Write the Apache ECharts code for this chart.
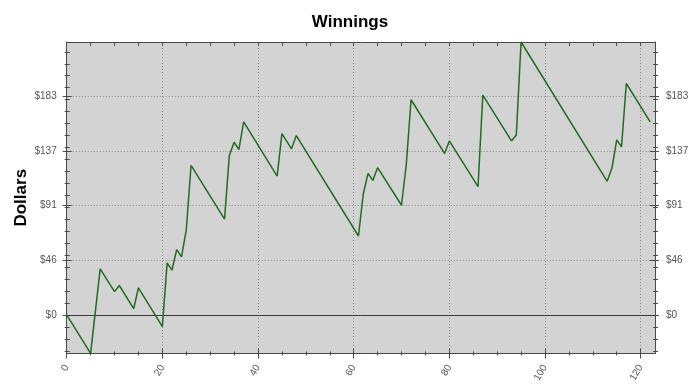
<!DOCTYPE html>
<html>
<head>
<meta charset="utf-8">
<script src="https://cdn.jsdelivr.net/npm/echarts@6/dist/echarts.min.js"></script>
<style>html,body{margin:0;padding:0;background:#fff}#c{width:700px;height:385px}</style>
</head>
<body>
<div id="c"></div>
<script>
// ---- data ----
const title = 'Winnings';
const yName = 'Dollars';
const xs = [0,5,7,10,11,14,15,20,21,22,23,24,25,26,33,34,35,36,37,44,45,47,48,61,62,63,64,65,70,71,72,79,80,86,87,93,94,95,113,114,115,116,117,122];
const ys = [0,-32.2,38.5,19.5,24.6,5.2,22.7,-9.8,43.5,37.4,54.6,48.5,71.2,125,80.1,133.3,144.4,138.3,161.4,116,151.6,138.9,150,66,100.9,118.4,112.5,123.1,91.7,125.8,179.9,135,145.5,107.3,183.8,145.5,150.5,228.2,111.7,122.8,146.4,140.6,193.5,161.4];
const yTickVals = [0, 45.7, 91.4, 137.1, 182.8];
const yTickLabels = ['$0', '$46', '$91', '$137', '$183'];
const yMinorVals = [-30,-20,-10,0,10,20,30,40,50,60,70,80,90,100,110,120,130,140,150,160,170,180,190,200,210,220];
const xMajorVals = [0,20,40,60,80,100,120];
const xMinorVals = [0,5,10,15,20,25,30,35,40,45,50,55,60,65,70,75,80,85,90,95,100,105,110,115,120];
const X_MIN = 0, X_MAX = 123;
const Y_MIN = -32.2, Y_MAX = 228.2;

// ---- chart ----
const AX = '#4a4a4a';
const chart = echarts.init(document.getElementById('c'), null, {renderer: 'canvas'});

function xAx(pos, vals, len, inside, extra) {
  return Object.assign({
    type: 'value', gridIndex: 0, position: pos, min: X_MIN, max: X_MAX,
    axisLine: {show: false, onZero: false}, splitLine: {show: false}, axisLabel: {show: false},
    axisTick: {show: true, customValues: vals, length: len, inside: inside, lineStyle: {color: AX, width: 1}}
  }, extra || {});
}
function yAx(pos, vals, len, inside, extra) {
  return Object.assign({
    type: 'value', gridIndex: 0, position: pos, min: Y_MIN, max: Y_MAX,
    axisLine: {show: false, onZero: false}, splitLine: {show: false}, axisLabel: {show: false},
    axisTick: {show: true, customValues: vals, length: len, inside: inside, lineStyle: {color: AX, width: 1}}
  }, extra || {});
}
const dotted = {show: true, lineStyle: {color: '#8a8a8a', type: [1, 2], width: 1}};
const labelStyle = {color: '#555', fontSize: 10, fontFamily: 'Liberation Sans, Arial, sans-serif'};

const option = {
  animation: false,
  backgroundColor: '#fff',
  title: {
    text: title, left: 'center', top: 9,
    textStyle: {fontSize: 17, fontWeight: 'bold', color: '#000', fontFamily: 'Liberation Sans, Arial, sans-serif'}
  },
  grid: {left: 66.7, right: 45, top: 42, bottom: 30, show: true, backgroundColor: '#d3d3d3', borderWidth: 0},
  xAxis: [
    xAx('bottom', xMajorVals, 5, false, {
      axisLine: {show: true, onZero: false, lineStyle: {color: AX, width: 1}},
      splitLine: dotted,
      axisLabel: Object.assign({show: true, customValues: xMajorVals, rotate: 60, margin: 12}, labelStyle)
    }),
    xAx('bottom', xMajorVals, 5, true),
    xAx('bottom', xMinorVals, 2, false),
    xAx('bottom', xMinorVals, 2, true),
    xAx('top', xMinorVals, 4, true, {axisLine: {show: true, onZero: false, lineStyle: {color: AX, width: 1}}})
  ],
  yAxis: [
    yAx('left', yTickVals, 4, false, {
      axisLine: {show: true, onZero: false, lineStyle: {color: AX, width: 1}},
      splitLine: dotted,
      name: yName, nameLocation: 'middle', nameGap: 37, nameMoveOverlap: false,
      nameTextStyle: {fontSize: 17, fontWeight: 'bold', color: '#000', fontFamily: 'Liberation Sans, Arial, sans-serif'},
      axisLabel: Object.assign({show: true, customValues: yTickVals, margin: 10,
        formatter: v => { const i = yTickVals.indexOf(v); return i >= 0 ? yTickLabels[i] : ''; }}, labelStyle)
    }),
    yAx('left', yTickVals, 5, true),
    yAx('left', yMinorVals, 2, false),
    yAx('left', yMinorVals, 3, true),
    yAx('right', yTickVals, 4, false, {
      axisLine: {show: true, onZero: false, lineStyle: {color: AX, width: 1}},
      axisLabel: Object.assign({show: true, customValues: yTickVals, margin: 11,
        formatter: v => { const i = yTickVals.indexOf(v); return i >= 0 ? yTickLabels[i] : ''; }}, labelStyle)
    }),
    yAx('right', yTickVals, 5, true),
    yAx('right', yMinorVals, 3, false),
    yAx('right', yMinorVals, 2, true)
  ],
  series: [{
    type: 'line', xAxisIndex: 0, yAxisIndex: 0,
    data: xs.map((x, i) => [x, ys[i]]),
    showSymbol: false, symbol: 'none',
    lineStyle: {color: '#226b22', width: 1.5},
    z: 5,
    markLine: {
      silent: true, symbol: 'none', label: {show: false},
      lineStyle: {color: '#3a3a3a', type: 'solid', width: 1},
      data: [{yAxis: 0}]
    }
  }]
};
chart.setOption(option);
</script>
</body>
</html>
